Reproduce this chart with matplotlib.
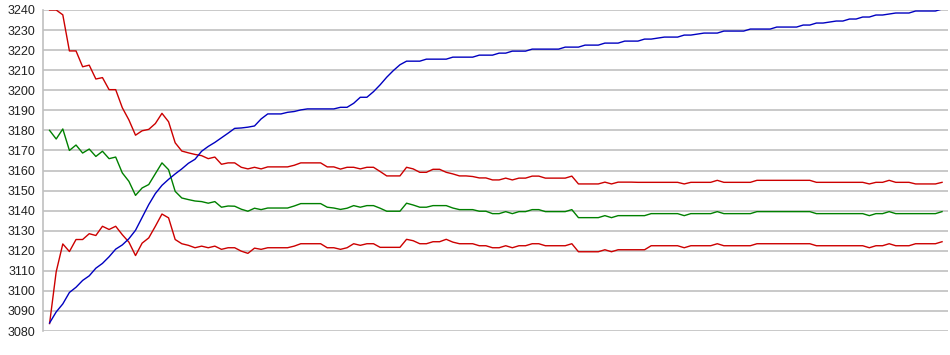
import numpy as np
import matplotlib
matplotlib.use("Agg")
import matplotlib.pyplot as plt

# Values (one point per sample).
blue = [
    3084.0, 3089.5, 3093.5, 3099.2, 3101.8, 3105.2, 3107.5, 3111.3, 3113.7, 3117.0,
    3120.8, 3122.9, 3126.0, 3130.2, 3136.6, 3143.0, 3148.5, 3152.6, 3155.6, 3158.3,
    3160.8, 3163.6, 3165.6, 3169.6, 3172.0, 3174.0, 3176.3, 3178.6, 3181.0, 3181.2,
    3181.6, 3182.2, 3185.7, 3188.2, 3188.2, 3188.2, 3189.0, 3189.4, 3190.2, 3190.7,
    3190.7, 3190.7, 3190.7, 3190.7, 3191.5, 3191.5, 3193.5, 3196.5, 3196.5, 3199.3,
    3202.7, 3206.5, 3209.8, 3212.7, 3214.5, 3214.5, 3214.5, 3215.5, 3215.5, 3215.5,
    3215.5, 3216.5, 3216.5, 3216.5, 3216.5, 3217.5, 3217.5, 3217.5, 3218.5, 3218.5,
    3219.5, 3219.5, 3219.5, 3220.5, 3220.5, 3220.5, 3220.5, 3220.5, 3221.5, 3221.5,
    3221.5, 3222.5, 3222.5, 3222.5, 3223.5, 3223.5, 3223.5, 3224.5, 3224.5, 3224.5,
    3225.5, 3225.5, 3226.0, 3226.5, 3226.5, 3226.5, 3227.5, 3227.5, 3228.0, 3228.5,
    3228.5, 3228.5, 3229.5, 3229.5, 3229.5, 3229.5, 3230.5, 3230.5, 3230.5, 3230.5,
    3231.5, 3231.5, 3231.5, 3231.5, 3232.5, 3232.5, 3233.5, 3233.5, 3234.0, 3234.5,
    3234.5, 3235.5, 3235.5, 3236.5, 3236.5, 3237.5, 3237.5, 3238.0, 3238.5, 3238.5,
    3238.5, 3239.5, 3239.5, 3239.5, 3239.5, 3240.5,
]

upper = [
    3240.0, 3240.0, 3237.6, 3219.6, 3219.6, 3211.7, 3212.5, 3205.6, 3206.3, 3200.3,
    3200.3, 3191.3, 3185.2, 3177.6, 3179.8, 3180.5, 3183.4, 3188.5, 3184.3, 3173.8,
    3169.7, 3168.8, 3168.0, 3167.4, 3165.9, 3166.7, 3163.1, 3163.8, 3163.8, 3161.6,
    3160.8, 3161.6, 3160.8, 3161.8, 3161.8, 3161.8, 3161.8, 3162.6, 3163.8, 3163.8,
    3163.8, 3163.8, 3161.8, 3161.8, 3160.7, 3161.6, 3161.6, 3160.8, 3161.6, 3161.6,
    3159.5, 3157.3, 3157.3, 3157.3, 3161.6, 3160.8, 3159.1, 3159.1, 3160.6, 3160.6,
    3159.1, 3158.3, 3157.3, 3157.3, 3157.0, 3156.3, 3156.3, 3155.3, 3155.3, 3156.2,
    3155.3, 3156.2, 3156.2, 3157.2, 3157.2, 3156.2, 3156.2, 3156.2, 3156.2, 3157.2,
    3153.3, 3153.3, 3153.3, 3153.3, 3154.2, 3153.3, 3154.2, 3154.2, 3154.2, 3154.1,
    3154.1, 3154.1, 3154.1, 3154.1, 3154.1, 3154.1, 3153.3, 3154.1, 3154.1, 3154.1,
    3154.1, 3155.1, 3154.1, 3154.1, 3154.1, 3154.1, 3154.1, 3155.1, 3155.1, 3155.1,
    3155.1, 3155.1, 3155.1, 3155.1, 3155.1, 3155.1, 3154.1, 3154.1, 3154.1, 3154.1,
    3154.1, 3154.1, 3154.1, 3154.1, 3153.3, 3154.1, 3154.1, 3155.1, 3154.1, 3154.1,
    3154.1, 3153.3, 3153.3, 3153.3, 3153.3, 3154.1,
]

middle = [
    3180.0, 3175.7, 3180.7, 3170.0, 3172.7, 3168.7, 3170.7, 3167.0, 3169.6, 3165.9,
    3166.7, 3158.8, 3154.6, 3147.6, 3151.3, 3153.0, 3158.4, 3163.8, 3160.4, 3149.6,
    3146.3, 3145.5, 3144.8, 3144.5, 3143.7, 3144.5, 3141.7, 3142.3, 3142.2, 3140.7,
    3139.7, 3141.2, 3140.5, 3141.3, 3141.3, 3141.3, 3141.3, 3142.3, 3143.5, 3143.5,
    3143.5, 3143.5, 3141.7, 3141.3, 3140.6, 3141.2, 3142.5, 3141.7, 3142.5, 3142.5,
    3141.2, 3139.7, 3139.7, 3139.7, 3143.7, 3142.8, 3141.7, 3141.7, 3142.5, 3142.5,
    3142.5, 3141.3, 3140.5, 3140.5, 3140.5, 3139.7, 3139.7, 3138.5, 3138.5, 3139.5,
    3138.5, 3139.5, 3139.5, 3140.5, 3140.5, 3139.5, 3139.5, 3139.5, 3139.5, 3140.5,
    3136.5, 3136.5, 3136.5, 3136.5, 3137.5, 3136.5, 3137.5, 3137.5, 3137.5, 3137.5,
    3137.5, 3138.5, 3138.5, 3138.5, 3138.5, 3138.5, 3137.5, 3138.5, 3138.5, 3138.5,
    3138.5, 3139.5, 3138.5, 3138.5, 3138.5, 3138.5, 3138.5, 3139.5, 3139.5, 3139.5,
    3139.5, 3139.5, 3139.5, 3139.5, 3139.5, 3139.5, 3138.5, 3138.5, 3138.5, 3138.5,
    3138.5, 3138.5, 3138.5, 3138.5, 3137.5, 3138.5, 3138.5, 3139.5, 3138.5, 3138.5,
    3138.5, 3138.5, 3138.5, 3138.5, 3138.5, 3139.5,
]

lower = [
    3083.7, 3109.5, 3123.4, 3119.6, 3125.6, 3125.6, 3128.5, 3127.6, 3132.2, 3130.6,
    3132.2, 3128.0, 3124.3, 3117.6, 3123.8, 3126.4, 3132.2, 3138.3, 3136.4, 3125.6,
    3123.5, 3122.7, 3121.5, 3122.3, 3121.5, 3122.3, 3120.7, 3121.5, 3121.5, 3119.8,
    3118.7, 3121.3, 3120.7, 3121.5, 3121.5, 3121.5, 3121.5, 3122.3, 3123.5, 3123.5,
    3123.5, 3123.5, 3121.5, 3121.5, 3120.7, 3121.5, 3123.5, 3122.7, 3123.5, 3123.5,
    3121.7, 3121.7, 3121.7, 3121.7, 3125.7, 3125.0, 3123.5, 3123.5, 3124.5, 3124.5,
    3125.7, 3124.3, 3123.5, 3123.5, 3123.5, 3122.5, 3122.5, 3121.5, 3121.5, 3122.5,
    3121.5, 3122.5, 3122.5, 3123.5, 3123.5, 3122.5, 3122.5, 3122.5, 3122.5, 3123.5,
    3119.5, 3119.5, 3119.5, 3119.5, 3120.5, 3119.5, 3120.5, 3120.5, 3120.5, 3120.5,
    3120.5, 3122.5, 3122.5, 3122.5, 3122.5, 3122.5, 3121.5, 3122.5, 3122.5, 3122.5,
    3122.5, 3123.5, 3122.5, 3122.5, 3122.5, 3122.5, 3122.5, 3123.5, 3123.5, 3123.5,
    3123.5, 3123.5, 3123.5, 3123.5, 3123.5, 3123.5, 3122.5, 3122.5, 3122.5, 3122.5,
    3122.5, 3122.5, 3122.5, 3122.5, 3121.5, 3122.5, 3122.5, 3123.5, 3122.5, 3122.5,
    3122.5, 3123.5, 3123.5, 3123.5, 3123.5, 3124.5,
]

y_ticks = list(range(3080, 3241, 10))

plt.rcParams["font.family"] = ["Liberation Sans", "DejaVu Sans"]

fig = plt.figure(figsize=(9.5, 3.55), dpi=100)
# Axes box placed to match the reference pixel layout.
ax = fig.add_axes([42.5 / 950, 24 / 355, 905.5 / 950, 321 / 355])

x = np.arange(len(blue))
lw = 1.0
ax.plot(x, upper, color="#cc0000", lw=lw, zorder=3)
ax.plot(x, middle, color="#008000", lw=lw, zorder=3)
ax.plot(x, lower, color="#cc0000", lw=lw, zorder=3)
ax.plot(x, blue, color="#0000c0", lw=lw, zorder=4)

ax.set_ylim(3080, 3240)
ax.set_xlim(-1.07, len(blue) - 1 + 0.9)
ax.set_yticks(y_ticks)
ax.set_xticks([])
ax.yaxis.grid(True, color="#c0c0c0", lw=1.2)
ax.set_axisbelow(True)
ax.tick_params(axis="y", length=0, pad=5, labelsize=9, labelcolor="#222222")

for side in ["top", "right", "bottom"]:
    ax.spines[side].set_visible(False)
ax.spines["left"].set_color("#c0c0c0")
ax.spines["left"].set_linewidth(1.2)

fig.savefig("out.png", dpi=100)
